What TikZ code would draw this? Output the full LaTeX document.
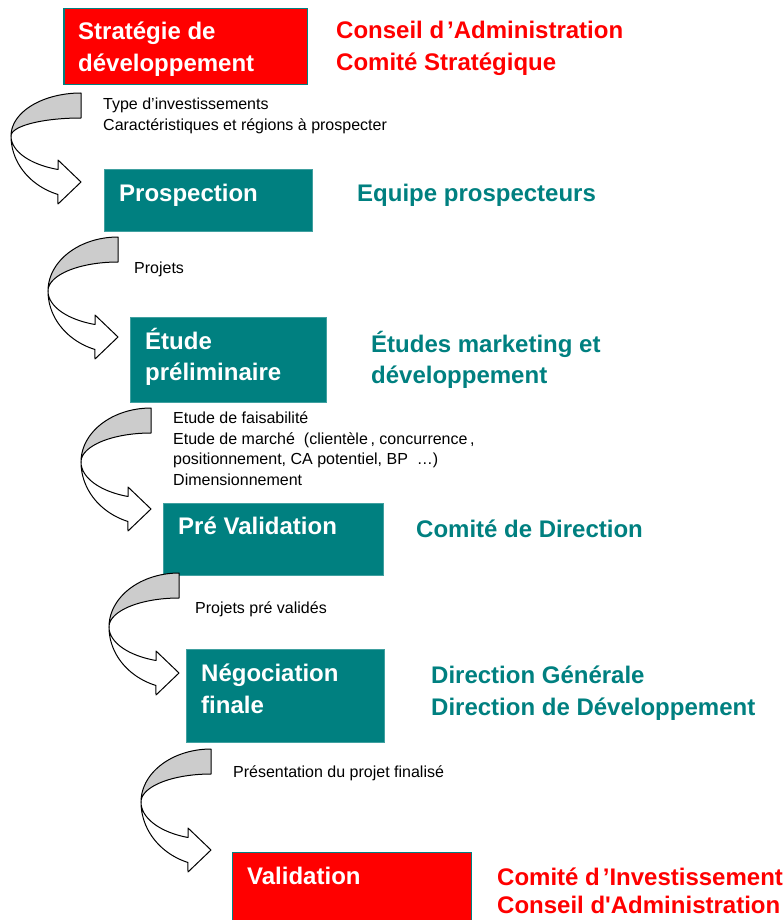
\documentclass[tikz,border=0pt]{standalone}
\usepackage{fontspec}
\setmainfont{Liberation Sans}
\definecolor{tred}{HTML}{FF0000}
\definecolor{tteal}{HTML}{008080}
\definecolor{tborder}{HTML}{40A0A0}
\definecolor{tgray}{HTML}{CCCCCC}
\newcommand\ribbonarrow[4]{%
  \pgfmathsetmacro\rao{#3-(#2)}%
  \pgfmathsetmacro\rai{#3-(#2)-25}%
  \pgfmathsetmacro\rbo{(#4+12.5-(#3))/0.9445}%
  \pgfmathsetmacro\rbi{(#4-12.5-(#3))/0.9445}%
  \draw[arrowline, fill=white] plot[domain=180:109.2, samples=30] ({#1+70*cos(\x)},{#3+\rbo*sin(\x)})
     -- (#1-23,#4+22) -- (#1,#4) -- (#1-23,#4-22) -- (#1-23,#4-12.5)
     -- plot[domain=109.2:180, samples=30] ({#1+70*cos(\x)},{#3+\rbi*sin(\x)}) -- cycle;
  \draw[arrowline, fill=tgray] plot[domain=270:180, samples=30] ({#1+70*cos(\x)},{#3+\rao*sin(\x)})
     -- plot[domain=180:270, samples=30] ({#1+70*cos(\x)},{#3+\rai*sin(\x)}) -- cycle;
}
\begin{document}
\begin{tikzpicture}[x=1pt,y=-1pt,
  arrowline/.style={draw=black, line width=1pt, line join=round},
  redbox/.style={rectangle, fill=tred, draw=tteal, line width=1.2pt, anchor=north west, inner sep=0},
  tealbox/.style={rectangle, fill=tteal, draw=tborder, line width=0.8pt, anchor=north west, inner sep=0},
  boxtext/.style={anchor=base west, inner sep=0, text=white, font=\fontsize{24}{28}\selectfont\bfseries},
  redlabel/.style={anchor=base west, inner sep=0, text=tred, font=\fontsize{24}{28}\selectfont\bfseries},
  teallabel/.style={anchor=base west, inner sep=0, text=tteal, font=\fontsize{24}{28}\selectfont\bfseries},
  note/.style={anchor=base west, inner sep=0, text=black, font=\fontsize{16}{20}\selectfont}]
\useasboundingbox (0,0) rectangle (782,920);

% boxes
\node[redbox, minimum width=243.3pt, minimum height=75.7pt] (b1) at (63.3,8.3) {};
\node[tealbox, minimum width=207.4pt, minimum height=62pt] (b2) at (104.3,169) {};
\node[tealbox, minimum width=195.7pt, minimum height=85pt] (b3) at (130,316.7) {};
\node[tealbox, minimum width=220pt, minimum height=72.3pt] (b4) at (162.7,502.7) {};
\node[tealbox, minimum width=198.6pt, minimum height=93pt] (b5) at (185.7,649.3) {};
\node[redbox, minimum width=239pt, minimum height=75pt] (b6) at (231.7,851.7) {};

% box texts
\node[boxtext] (t1a) at (78,40) {Stratégie de};
\node[boxtext] (t1b) at (78,72) {développement};
\node[boxtext] (t2) at (119,201) {Prospection};
\node[boxtext] (t3a) at (145,349) {Étude};
\node[boxtext] (t3b) at (145,380) {préliminaire};
\node[boxtext] (t4) at (178,534) {Pré Validation};
\node[boxtext] (t5a) at (201,681) {Négociation};
\node[boxtext] (t5b) at (201,713) {finale};
\node[boxtext] (t6) at (247,884) {Validation};

% right labels
\node[redlabel] (r1a) at (336,39) {Conseil d\kern3pt’Administration};
\node[redlabel] (r1b) at (336,71) {Comité Stratégique};
\node[teallabel] (r2) at (357,201) {Equipe prospecteurs};
\node[teallabel] (r3a) at (371,352) {Études marketing et};
\node[teallabel] (r3b) at (371,383) {développement};
\node[teallabel] (r4) at (416,537) {Comité de Direction};
\node[teallabel] (r5a) at (431,683) {Direction Générale};
\node[teallabel] (r5b) at (431,715) {Direction de Développement};
\node[redlabel] (r6a) at (497,885) {Comité d\kern3pt’Investissement};
\node[redlabel] (r6b) at (497,913) {Conseil d\textquotesingle Administration};

% notes
\node[note] (n1a) at (103,110) {Type d’investissements};
\node[note] (n1b) at (103,131) {Caractéristiques et régions à prospecter};
\node[note] (n2) at (134,273) {Projets};
\node[note] (n3a) at (173,423) {Etude de faisabilité};
\node[note] (n3b) at (173,444) {Etude de marché\ \ (clientèle\,, concurrence\,,};
\node[note] (n3c) at (173,464.5) {positionnement, CA potentiel, BP \ …)};
\node[note] (n3d) at (173,485) {Dimensionnement};
\node[note] (n4) at (195,613) {Projets pré validés};
\node[note] (n5) at (233,777) {Présentation du projet finalisé};

% curved arrows
\ribbonarrow{81}{93}{136}{182}
\ribbonarrow{118}{237}{291}{337}
\ribbonarrow{151}{408}{462}{509}
\ribbonarrow{179}{573}{627}{673}
\ribbonarrow{211}{749}{802}{850}
\end{tikzpicture}
\end{document}
